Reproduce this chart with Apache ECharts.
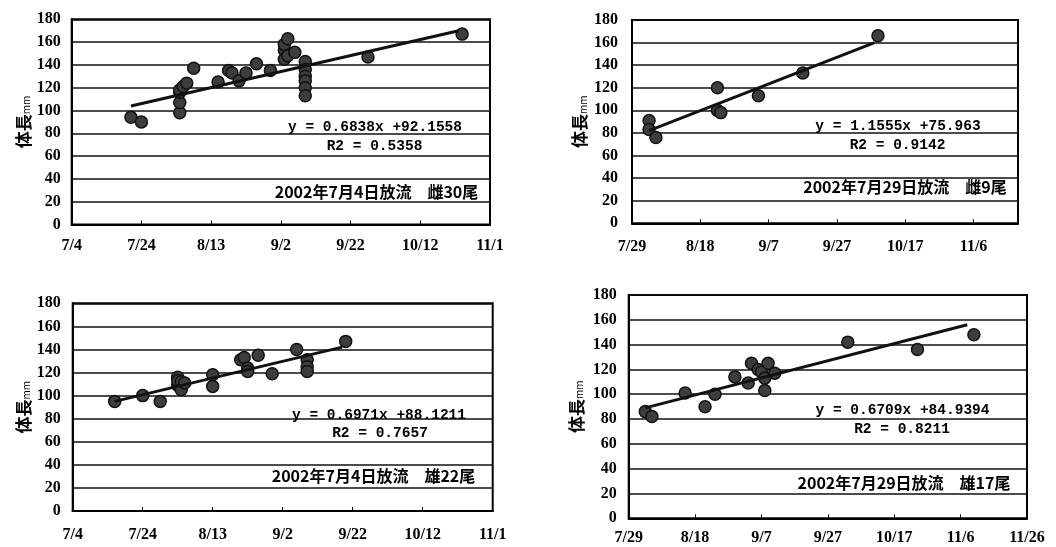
<!DOCTYPE html>
<html>
<head>
<meta charset="utf-8">
<script src="https://cdn.jsdelivr.net/npm/echarts@6/dist/echarts.min.js"></script>
<style>
html,body{margin:0;padding:0;background:#fff;}
#c{width:1056px;height:547px;}
</style>
</head>
<body>
<div id="c"></div>
<script>
// x values: days since the first axis date of each panel
const axisStart = [[7,4],[7,29],[7,4],[7,29]];
const axisMax = [120, 113, 120, 120];
const yTicks = [0,20,40,60,80,100,120,140,160,180];

const femaleJul4 = [[17,94],[20,90],[31,98],[31,107],[31,116],[31,118],[32,121],[33,124],[35,137],[42,125],[45,135],[46,133],[48,126],[50,133],[53,141],[57,135],[61,153],[61,158],[62,163],[61,145],[62,148],[64,151],[67,143],[67,136],[67,130],[67,126],[67,120],[67,113],[85,147],[112,167]];
const femaleJul29 = [[5,91],[5,83],[7,76],[25,120],[25,100],[26,98],[37,113],[50,133],[72,166]];
const maleJul4 = [[12,95],[20,100],[25,95],[30,116],[30,109],[30,113],[31,112],[31,105],[32,111],[40,118],[40,108],[48,131],[49,133],[50,124],[50,121],[53,135],[57,119],[64,140],[67,131],[67,125],[67,121],[78,147]];
const maleJul29 = [[5,86],[7,82],[17,101],[23,90],[26,100],[32,114],[36,109],[37,125],[39,120],[40,118],[41,113],[41,103],[42,125],[44,117],[66,142],[87,136],[104,148]];

const trendFemaleJul4 = [[17,104],[111,170]];
const trendFemaleJul29 = [[5,82],[71,160]];
const trendMaleJul4 = [[12,95],[77,142]];
const trendMaleJul29 = [[5,89],[102,156]];

const equations = ['y = 0.6838x +92.1558','y = 1.1555x +75.963','y = 0.6971x +88.1211','y = 0.6709x +84.9394'];
const r2Labels = ['R2 = 0.5358','R2 = 0.9142','R2 = 0.7657','R2 = 0.8211'];
const releaseLabels = ['2002年7月4日放流　雌30尾','2002年7月29日放流　雌9尾','2002年7月4日放流　雄22尾','2002年7月29日放流　雄17尾'];
const yName = '体長';
const yUnit = 'mm';

const scatterData = [femaleJul4, femaleJul29, maleJul4, maleJul29];
const trendData = [trendFemaleJul4, trendFemaleJul29, trendMaleJul4, trendMaleJul29];

// layout
const grids = [
  {left:71.7, top:19.3, width:418.3, height:205.2},
  {left:632, top:20, width:386, height:203.3},
  {left:72.7, top:303.3, width:420, height:207.7},
  {left:628.7, top:295, width:398.3, height:223.3}
];
const xLabelMargin = [13, 16, 16, 12];
const yLabelMargin = [11, 14, 12, 12];
const nameGaps = [40, 44, 41, 44];
const textPos = [
  {eq:[375,127.3], r2:[374.5,146.7], rel:[376.5,191.7]},
  {eq:[898,126], r2:[897.5,145.7], rel:[905,187.3]},
  {eq:[379,415], r2:[380,433.3], rel:[373.5,476]},
  {eq:[902.5,410], r2:[902,429.3], rel:[904,483.3]}
];

const serif = '"Liberation Serif", "DejaVu Serif", serif';

function dateFmt(base){
  return function(v){
    if (Math.round(v) % 20 !== 0) return '';
    const d = new Date(2002, base[0]-1, base[1] + Math.round(v));
    return (d.getMonth()+1) + '/' + d.getDate();
  };
}

const option = {
  animation:false,
  backgroundColor:'#fff',
  grid: grids.map(g => Object.assign({show:true, borderColor:'#000', borderWidth:2, backgroundColor:'transparent'}, g)),
  xAxis: grids.map((g,i) => ({
    type:'value', gridIndex:i, min:0, max:axisMax[i], interval:20,
    axisLine:{show:true, onZero:false, lineStyle:{color:'#000', width:2}},
    axisTick:{show:true, inside:true, length:4, lineStyle:{color:'#000', width:1}},
    splitLine:{show:false},
    axisLabel:{formatter:dateFmt(axisStart[i]), color:'#000', fontFamily:serif, fontWeight:'bold', fontSize:16, margin:xLabelMargin[i], showMaxLabel: axisMax[i] % 20 === 0}
  })),
  yAxis: grids.map((g,i) => ({
    type:'value', gridIndex:i, min:0, max:180, interval:20,
    axisLine:{show:true, lineStyle:{color:'#000', width:2}},
    axisTick:{show:false},
    splitLine:{show:true, lineStyle:{color:'#111', width:1.5}},
    axisLabel:{color:'#000', fontFamily:serif, fontWeight:'bold', fontSize:16, margin:yLabelMargin[i],
      formatter: v => yTicks.indexOf(v) >= 0 ? String(v) : ''},
    name:'{a|' + yName + '}{b|' + yUnit + '}',
    nameLocation:'middle', nameRotate:90, nameGap:nameGaps[i],
    nameTextStyle:{rich:{
      a:{fontFamily:'"Noto Sans CJK JP"', fontWeight:'bold', fontSize:17, color:'#000'},
      b:{fontFamily:'"Noto Sans CJK JP"', fontSize:10, color:'#000', verticalAlign:'bottom'}
    }}
  })),
  series: [].concat(
    scatterData.map((d,i) => ({
      type:'scatter', xAxisIndex:i, yAxisIndex:i, data:d, symbolSize:12, z:3,
      itemStyle:{color:'#3d3d3d', borderColor:'#111', borderWidth:1.5, opacity:1}
    })),
    trendData.map((d,i) => ({
      type:'line', xAxisIndex:i, yAxisIndex:i, data:d, symbol:'none', z:4,
      lineStyle:{color:'#111', width:3}
    }))
  ),
  graphic: [].concat(...textPos.map((p,i) => [
    {type:'text', x:p.eq[0], y:p.eq[1], z:10, style:{text:equations[i], textAlign:'center', textVerticalAlign:'middle', font:'bold 14.5px "Liberation Mono", monospace', fill:'#000'}},
    {type:'text', x:p.r2[0], y:p.r2[1], z:10, style:{text:r2Labels[i], textAlign:'center', textVerticalAlign:'middle', font:'bold 14.5px "Liberation Mono", monospace', fill:'#000'}},
    {type:'text', x:p.rel[0], y:p.rel[1], z:10, style:{text:releaseLabels[i], textAlign:'center', textVerticalAlign:'middle', font:'bold 16px "Noto Sans CJK JP"', fill:'#000'}}
  ]))
};

const chart = echarts.init(document.getElementById('c'), null, {renderer:'canvas'});
chart.setOption(option);
</script>
</body>
</html>
